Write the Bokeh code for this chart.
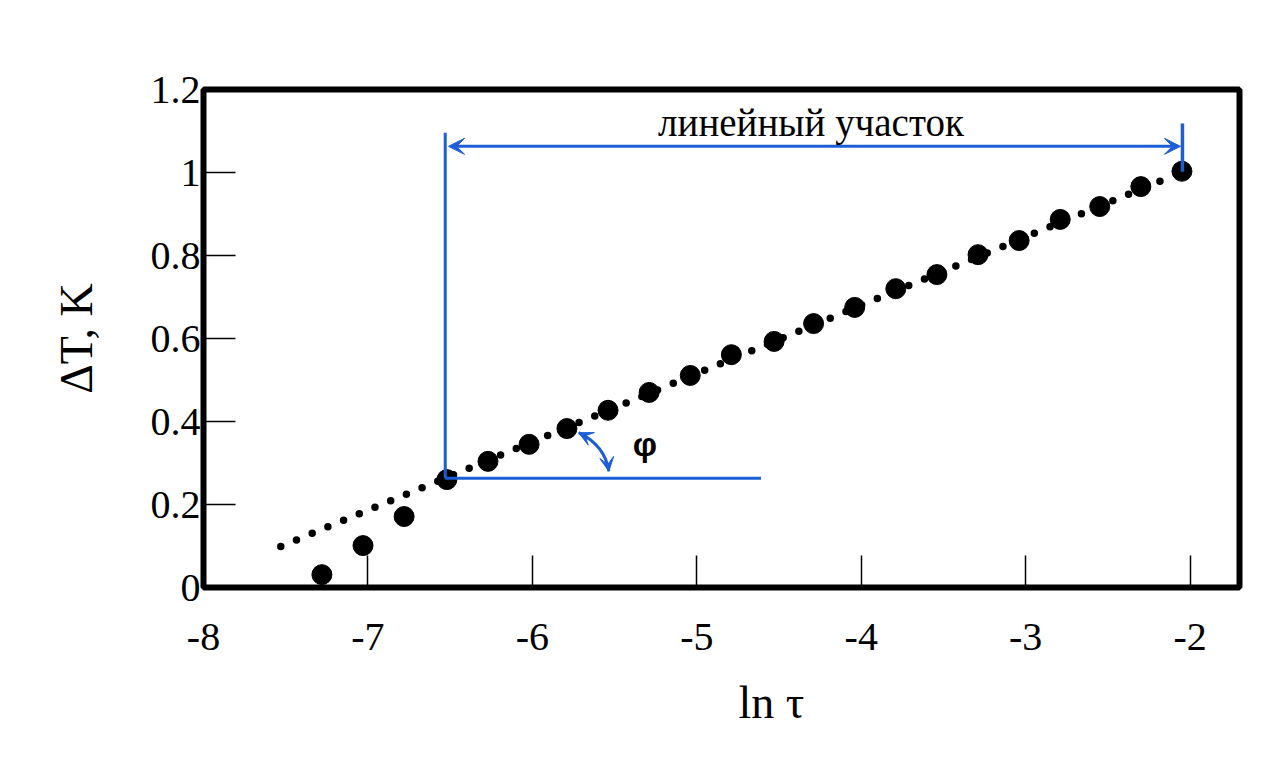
from bokeh.plotting import figure
from bokeh.models import Range1d, FixedTicker, Arrow, VeeHead, Label, Title
from bokeh.embed import file_html
from bokeh.resources import INLINE
from bokeh.core.properties import value

# ---------------- data ----------------
ln_tau = [-7.28, -7.03, -6.78, -6.52, -6.27, -6.02, -5.79, -5.54, -5.29, -5.04, -4.79,
          -4.53, -4.29, -4.04, -3.79, -3.54, -3.29, -3.04, -2.79, -2.55, -2.30, -2.05]
delta_T = [0.031, 0.101, 0.171, 0.260, 0.304, 0.345, 0.383, 0.427, 0.470, 0.511, 0.561,
           0.593, 0.636, 0.675, 0.720, 0.754, 0.802, 0.836, 0.887, 0.918, 0.966, 1.003]

fit_x = [-7.53, -2.13]
fit_y = [0.099, 0.988]

x_ticks = [-8, -7, -6, -5, -4, -3, -2]
x_tick_labels = ["-8", "-7", "-6", "-5", "-4", "-3", "-2"]
y_ticks = [0, 0.2, 0.4, 0.6, 0.8, 1, 1.2]
y_tick_labels = ["0", "0.2", "0.4", "0.6", "0.8", "1", "1.2"]

x_label = "ln τ"
y_label = "ΔT, K"
region_label = "линейный участок"
angle_label = "φ"

# annotation geometry (data units)
lin_x0, lin_x1 = -6.53, -2.047          # linear region bounds
lin_top, lin_right_top = 1.096, 1.118
lin_base_y = 0.263                       # horizontal base line level
base_x_end = -4.61
arrow_y = 1.063
arc_start = (-5.718, 0.373)
arc_ctrl = (-5.559, 0.342)
arc_end = (-5.535, 0.280)

BLUE = "#1c5ed6"
SERIF = "Liberation Serif"

p = figure(width=1271, height=766,
           x_range=Range1d(-8, -1.70), y_range=Range1d(0, 1.2),
           output_backend="svg", toolbar_location=None,
           min_border_left=203, min_border_right=32,
           min_border_top=89, min_border_bottom=179)

p.grid.visible = False
p.outline_line_color = "black"
p.outline_line_width = 6
p.background_fill_color = "white"
p.border_fill_color = "white"

for ax in (p.xaxis[0], p.yaxis[0]):
    ax.axis_line_color = None
    ax.major_tick_in = 32
    ax.major_tick_out = 0
    ax.major_tick_line_width = 1.5
    ax.major_tick_line_color = "black"
    ax.minor_tick_line_color = None
    ax.major_label_text_font = SERIF
    ax.major_label_text_font_size = "40px"
    ax.major_label_text_color = "black"

p.xaxis.ticker = FixedTicker(ticks=x_ticks)
p.xaxis.major_label_overrides = {t: l for t, l in zip(x_ticks, x_tick_labels)}
p.xaxis.major_label_standoff = 36

p.yaxis.ticker = FixedTicker(ticks=y_ticks)
p.yaxis.major_label_overrides = {t: l for t, l in zip(y_ticks, y_tick_labels)}
p.yaxis.major_label_standoff = 3

p.yaxis.axis_label = y_label
p.yaxis.axis_label_text_font = SERIF
p.yaxis.axis_label_text_font_size = "46px"
p.yaxis.axis_label_text_font_style = "normal"
p.yaxis.axis_label_text_color = "black"
p.yaxis.axis_label_standoff = 46

# x axis label as a title below the axis
p.add_layout(Title(text=x_label, align="left", offset=535, standoff=45,
                   text_font=SERIF, text_font_size="46px", text_font_style="normal",
                   text_color="black"), "below")

# data points and dotted fit line
p.scatter(ln_tau, delta_T, size=20, color="black")
p.line(fit_x, fit_y, line_width=7.5, line_dash="0 17", line_cap="round", color="black")

# blue annotations
p.line([lin_x0, lin_x0], [lin_top, lin_base_y], line_color=BLUE, line_width=3)
p.line([lin_x0, base_x_end], [lin_base_y, lin_base_y], line_color=BLUE, line_width=3)
p.line([lin_x1, lin_x1], [lin_right_top, 1.002], line_color=BLUE, line_width=3.5)

p.add_layout(Arrow(x_start=lin_x0 + 0.02, y_start=arrow_y, x_end=lin_x1 - 0.012, y_end=arrow_y,
                   line_color=BLUE, line_width=3,
                   start=VeeHead(size=16, fill_color=BLUE, line_color=BLUE, line_width=1),
                   end=VeeHead(size=16, fill_color=BLUE, line_color=BLUE, line_width=1)))

p.add_layout(Label(x=-4.306, y=1.120, text=region_label, text_align="center",
                   text_baseline="alphabetic", text_font=SERIF, text_font_size="39px",
                   text_color="black"))

# curved angle arrow
p.quadratic(x0=[arc_start[0]], y0=[arc_start[1]], x1=[arc_end[0]], y1=[arc_end[1]],
            cx=[arc_ctrl[0]], cy=[arc_ctrl[1]], line_color=BLUE, line_width=3)
for tip in (arc_start, arc_end):
    sx = tip[0] + 0.2 * (arc_ctrl[0] - tip[0])
    sy = tip[1] + 0.2 * (arc_ctrl[1] - tip[1])
    p.add_layout(Arrow(x_start=sx, y_start=sy, x_end=tip[0], y_end=tip[1],
                       line_color=BLUE, line_width=3,
                       end=VeeHead(size=14, fill_color=BLUE, line_color=BLUE, line_width=1)))

p.add_layout(Label(x=-5.316, y=0.345, text=angle_label, text_align="center",
                   text_baseline="middle", text_font="Liberation Sans",
                   text_font_style="bold", text_font_size="34px", text_color="black"))

open("out.html", "w").write(file_html(p, INLINE))
